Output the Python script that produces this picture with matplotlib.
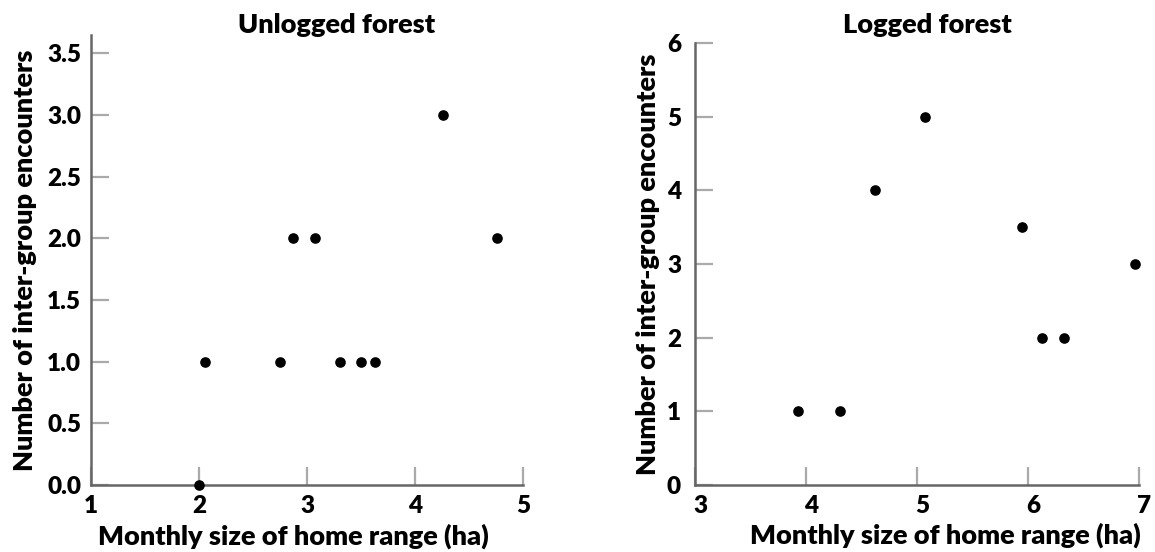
import matplotlib
matplotlib.use("Agg")
import matplotlib.pyplot as plt
from matplotlib.transforms import ScaledTranslation

plt.rcParams["font.family"] = ["Lato", "DejaVu Sans"]
plt.rcParams["font.weight"] = "heavy"

# ---------- Data ----------
unlogged_x = [2.00, 2.06, 2.75, 2.87, 3.07, 3.31, 3.50, 3.63, 4.26, 4.76]
unlogged_y = [0, 1, 1, 2, 2, 1, 1, 1, 3, 2]

logged_x = [3.93, 4.31, 4.62, 5.07, 5.95, 6.13, 6.32, 6.96]
logged_y = [1, 1, 4, 5, 3.5, 2, 2, 3]

unlogged_xticks = [1, 2, 3, 4, 5]
unlogged_yticks = [0.0, 0.5, 1.0, 1.5, 2.0, 2.5, 3.0, 3.5]
logged_xticks = [3, 4, 5, 6, 7]
logged_yticks = [0, 1, 2, 3, 4, 5, 6]

XLABEL = "Monthly size of home range (ha)"
YLABEL = "Number of inter-group encounters"

W, H = 1155, 552
WEIGHT = "heavy"


def px_rect(x0, x1, y_top, y_bot):
    # pixel box -> figure fraction rect
    return [x0 / W, 1 - y_bot / H, (x1 - x0) / W, (y_bot - y_top) / H]


def style_axes(ax, ypad):
    for side in ("top", "right"):
        ax.spines[side].set_visible(False)
    for side in ("left", "bottom"):
        ax.spines[side].set_color("#666666")
        ax.spines[side].set_linewidth(1.8)
    ax.tick_params(axis="both", direction="in", length=13, width=1.6,
                   color="#aaaaaa", labelsize=17.5)
    ax.tick_params(axis="y", pad=ypad)
    ax.tick_params(axis="x", pad=7)
    for lbl in ax.get_xticklabels() + ax.get_yticklabels():
        lbl.set_fontweight(WEIGHT)


fig = plt.figure(figsize=(W / 100, H / 100), dpi=100)

# left panel: unlogged forest
ax1 = fig.add_axes(px_rect(91, 523, 35, 485))
ax1.scatter(unlogged_x, unlogged_y, s=44, color="black", clip_on=False, zorder=3)
ax1.set_xlim(1, 5)
ax1.set_ylim(0, 3.647)
ax1.set_xticks(unlogged_xticks)
ax1.set_yticks(unlogged_yticks)
ax1.set_yticklabels([f"{v:.1f}" for v in unlogged_yticks])
style_axes(ax1, ypad=7)
ax1.set_title("Unlogged forest", fontsize=19.5, fontweight=WEIGHT, x=0.569, y=1.0, pad=1.5)
ax1.set_xlabel(XLABEL, fontsize=19.5, fontweight=WEIGHT)
ax1.xaxis.set_label_coords(0.468, -0.085)
ax1.set_ylabel(YLABEL, fontsize=19.5, fontweight=WEIGHT)
ax1.yaxis.set_label_coords(-0.125, 0.50)

# right panel: logged forest
ax2 = fig.add_axes(px_rect(695, 1139, 43, 485))
ax2.scatter(logged_x, logged_y, s=44, color="black", clip_on=False, zorder=3)
ax2.set_xlim(3, 7)
ax2.set_ylim(0, 6)
ax2.set_xticks(logged_xticks)
ax2.set_yticks(logged_yticks)
style_axes(ax2, ypad=10)
shift = ScaledTranslation(5 / 100, 0, fig.dpi_scale_trans)
for lbl in ax2.get_xticklabels():
    lbl.set_transform(lbl.get_transform() + shift)
ax2.set_title("Logged forest", fontsize=19.5, fontweight=WEIGHT, x=0.524, y=1.0, pad=7.5)
ax2.set_xlabel(XLABEL, fontsize=19.5, fontweight=WEIGHT)
ax2.xaxis.set_label_coords(0.565, -0.085)
ax2.set_ylabel(YLABEL, fontsize=19.5, fontweight=WEIGHT)
ax2.yaxis.set_label_coords(-0.079, 0.50)

fig.savefig("out.png", dpi=100, facecolor="white")
